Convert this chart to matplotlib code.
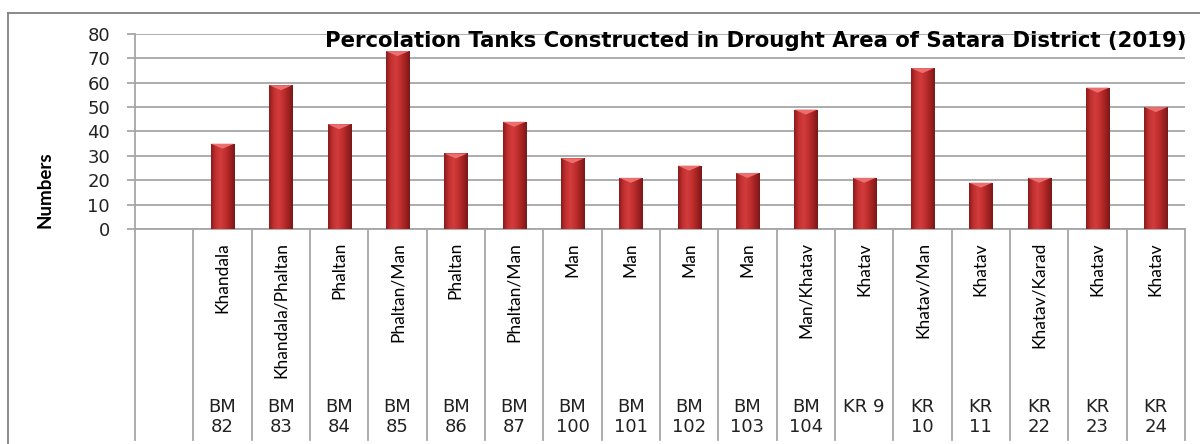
import numpy as np
import matplotlib.pyplot as plt
from matplotlib.colors import LinearSegmentedColormap
from matplotlib.patches import Polygon
from matplotlib.lines import Line2D
import matplotlib.transforms as mtransforms

# データ
blocks = ['Khandala', 'Khandala/Phaltan', 'Phaltan', 'Phaltan/Man', 'Phaltan',
          'Phaltan/Man', 'Man', 'Man', 'Man', 'Man', 'Man/Khatav', 'Khatav',
          'Khatav/Man', 'Khatav', 'Khatav/Karad', 'Khatav', 'Khatav']
codes = ['BM\n82', 'BM\n83', 'BM\n84', 'BM\n85', 'BM\n86', 'BM\n87', 'BM\n100',
         'BM\n101', 'BM\n102', 'BM\n103', 'BM\n104', 'KR 9', 'KR\n10', 'KR\n11',
         'KR\n22', 'KR\n23', 'KR\n24']
values = [35, 59, 43, 73, 31, 44, 29, 21, 26, 23, 49, 21, 66, 19, 21, 58, 50]
y_ticks = [0, 10, 20, 30, 40, 50, 60, 70, 80]

my_title = 'Percolation Tanks Constructed in Drought Area of Satara District (2019)'
narrow = ['Lato', 'DejaVu Sans']
grid_col = '#a6a6a6'

W, H = 1200, 444
fig = plt.figure(figsize=(W / 100, H / 100), dpi=100)
ax = fig.add_axes([135 / W, 1 - 229 / H, 1050 / W, 195 / H])

# 先頭は空のカテゴリ
x = np.arange(1, len(values) + 1)
n_cat = len(values) + 1

bars = ax.bar(x, values, width=0.4, color='#c0392b', zorder=3)

# バーのグラデーション
cmap = LinearSegmentedColormap.from_list(
    'bar', ['#8a1b1b', '#c43131', '#d23c3c', '#c22f2f', '#a32222', '#7a1717'])
grad = np.linspace(0, 1, 64).reshape(1, -1)
px_per_unit = 195 / 80
for b in bars:
    x0, w, h = b.get_x(), b.get_width(), b.get_height()
    im = ax.imshow(grad, cmap=cmap, aspect='auto', extent=[x0, x0 + w, 0, h],
                   zorder=4, interpolation='bicubic')
    im.set_clip_path(b)
    # 上部の面取り
    d = 5 / px_per_unit
    tri = Polygon([[x0, h], [x0 + w, h], [x0 + w / 2, h - d]], closed=True,
                  facecolor='#ec6f6f', edgecolor='none', zorder=5)
    ax.add_patch(tri)

ax.set_xlim(-0.5, n_cat - 0.5)
ax.set_ylim(0, 80)
ax.set_yticks(y_ticks)
ax.set_xticks([])
ax.yaxis.grid(True, color=grid_col, lw=1.3, zorder=0)
ax.set_axisbelow(True)
for s in ['top', 'right']:
    ax.spines[s].set_visible(False)
for s in ['left', 'bottom']:
    ax.spines[s].set_color(grid_col)
    ax.spines[s].set_linewidth(1.3)
ax.tick_params(axis='y', direction='out', length=6, width=1.3, color=grid_col,
               pad=12, labelsize=13, labelcolor='#222222')

# カテゴリ区切り線とラベル
trans = mtransforms.blended_transform_factory(ax.transData, ax.transAxes)
for k in range(n_cat + 1):
    ax.add_line(Line2D([k - 0.5, k - 0.5], [0, -211 / 195], transform=trans,
                       color=grid_col, lw=1.3, clip_on=False))
for xi, name, code in zip(x, blocks, codes):
    ax.text(xi, -13 / 195, name, transform=trans, rotation=90, ha='center',
            va='top', fontsize=12.5, family=narrow, color='black')
    ax.text(xi, -169 / 195, code, transform=trans, ha='center', va='top',
            fontsize=13, linespacing=1.15, color='#222222')

# タイトルと軸ラベル
fig.text(325 / W, 1 - 41 / H, my_title, ha='left', va='center',
         fontsize=15.3, fontweight='bold', color='black')
fig.text(45 / W, 1 - 190 / H, 'Numbers', rotation=90, ha='center', va='center',
         fontsize=13.5, fontweight='bold', family=narrow, color='black')

# 外枠
fig.add_artist(Line2D([8 / W, 8 / W], [0, 1 - 13 / H], color='#808080', lw=1.3))
fig.add_artist(Line2D([8 / W, 1], [1 - 13 / H, 1 - 13 / H], color='#808080', lw=1.3))

fig.savefig('out.png', dpi=100)
